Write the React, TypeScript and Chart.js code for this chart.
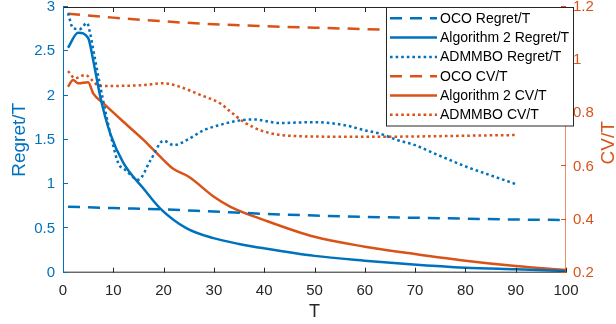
import React, { useEffect, useRef } from 'react';
import { Chart, registerables } from 'chart.js';

Chart.register(...registerables);

// ---------- data ----------
const ocoT = [1, 10, 20, 30, 40, 50, 60, 70, 80, 90, 100];
const ocoRegret = [0.745, 0.73, 0.715, 0.69, 0.665, 0.645, 0.63, 0.62, 0.61, 0.6, 0.595];
const ocoCV = [1.175, 1.16, 1.146, 1.135, 1.128, 1.122, 1.117, 1.112, 1.107, 1.103, 1.1];

const algRegretT = [1, 3, 5, 6, 7.4, 9.4, 12, 16, 19.3, 24.6, 29.9, 35, 40, 50, 60, 69, 80, 90, 100];
const algRegret = [2.54, 2.71, 2.65, 2.4, 1.99, 1.57, 1.24, 0.95, 0.727, 0.5, 0.39, 0.325, 0.275, 0.19, 0.136, 0.095, 0.056, 0.038, 0.02];

const admmRegretT = [1, 2, 3.3, 4.8, 5.4, 6.4, 8.1, 9.7, 11, 12.4, 15, 17.4, 20, 22, 24.7, 28, 31.3, 35.2, 38, 43, 50, 53, 56.5, 59.8, 63, 66.4, 70, 73.7, 80, 85, 90];
const admmRegret = [2.93, 2.76, 2.75, 2.82, 2.7, 2.4, 1.91, 1.5, 1.235, 1.16, 1.05, 1.27, 1.49, 1.44, 1.5, 1.61, 1.67, 1.72, 1.73, 1.69, 1.7, 1.69, 1.66, 1.61, 1.57, 1.5, 1.44, 1.35, 1.2, 1.1, 1.0];

const algCVT = [1, 2, 3, 5, 6, 8, 12, 16, 20, 22, 25, 30, 33.3, 40, 50, 60, 69, 80, 90, 100];
const algCV = [0.9, 0.925, 0.913, 0.917, 0.875, 0.838, 0.768, 0.7, 0.624, 0.59, 0.561, 0.486, 0.448, 0.398, 0.335, 0.298, 0.273, 0.245, 0.225, 0.21];

const admmCVT = [1, 2.4, 4.4, 6.1, 7.1, 10, 16, 20, 22.7, 27.3, 31.3, 33.3, 35.9, 40, 46.5, 55, 65, 75, 85, 90];
const admmCV = [0.959, 0.932, 0.944, 0.919, 0.903, 0.903, 0.906, 0.913, 0.903, 0.869, 0.837, 0.806, 0.768, 0.731, 0.714, 0.712, 0.712, 0.714, 0.717, 0.718];

const seriesLabels = [
  'OCO Regret/T',
  'Algorithm 2 Regret/T',
  'ADMMBO Regret/T',
  'OCO CV/T',
  'Algorithm 2 CV/T',
  'ADMMBO CV/T',
];

// ---------- styling ----------
const BLUE = '#0072BD';
const ORANGE = '#D95319';
const DARK = '#262626';
const FONT = '"Liberation Sans", Arial, Helvetica, sans-serif';
const DASH = [12, 8];
const DOT = [2.6, 3];
const LW = 2.5;

const pts = (xs: number[], ys: number[]) => xs.map((x, i) => ({ x, y: ys[i] }));
const fmt = (v: any) => String(Math.round(Number(v) * 10) / 10);
const noPad = (s: any) => {
  s.paddingTop = 0;
  s.paddingBottom = 0;
  s.paddingLeft = 0;
  s.paddingRight = 0;
};

const framePlugin = {
  id: 'frame',
  afterDraw(chart: any) {
    const { ctx, chartArea, scales } = chart;
    const { left, right, top, bottom } = chartArea;
    const line = (x1: number, y1: number, x2: number, y2: number) => {
      ctx.beginPath();
      ctx.moveTo(x1, y1);
      ctx.lineTo(x2, y2);
      ctx.stroke();
    };
    ctx.save();
    ctx.setLineDash([]);
    ctx.lineWidth = 1;
    ctx.strokeStyle = DARK;
    line(left, top + 0.5, right, top + 0.5);
    line(left, bottom - 0.5, right, bottom - 0.5);
    const xs = scales.x;
    xs.ticks.forEach((t: any) => {
      const px = Math.round(xs.getPixelForValue(t.value)) + 0.5;
      line(px, bottom, px, bottom - 5);
      line(px, top, px, top + 5);
    });
    ctx.strokeStyle = BLUE;
    line(left + 0.5, top, left + 0.5, bottom);
    const ys = scales.y;
    ys.ticks.forEach((t: any) => {
      const py = Math.round(ys.getPixelForValue(t.value)) - 0.5;
      line(left, py, left + 5, py);
    });
    ctx.strokeStyle = 'rgba(217,83,25,0.65)';
    line(right - 0.5, top, right - 0.5, bottom);
    ctx.strokeStyle = ORANGE;
    const y1 = scales.y1;
    y1.ticks.forEach((t: any) => {
      const py = Math.round(y1.getPixelForValue(t.value)) - 0.5;
      line(right, py, right - 5, py);
    });
    // right title (reads bottom-to-top)
    ctx.fillStyle = ORANGE;
    ctx.font = `19px ${FONT}`;
    ctx.textAlign = 'center';
    ctx.textBaseline = 'middle';
    ctx.translate(609, (top + bottom) / 2 + 3);
    ctx.rotate(-Math.PI / 2);
    ctx.fillText('CV/T', 0, 0);
    ctx.restore();

    // legend
    ctx.save();
    const bx = 386, by = 7.5, bw = 187, bh = 118.5;
    ctx.fillStyle = '#fff';
    ctx.fillRect(bx, by, bw, bh);
    ctx.strokeStyle = DARK;
    ctx.lineWidth = 1;
    ctx.strokeRect(bx + 0.5, by, bw, bh);
    ctx.font = `14px ${FONT}`;
    ctx.textAlign = 'left';
    ctx.textBaseline = 'middle';
    chart.data.datasets.forEach((ds: any, i: number) => {
      const cy = 18.3 + i * 19.3;
      ctx.strokeStyle = ds.borderColor;
      ctx.lineWidth = ds.borderWidth;
      ctx.setLineDash(ds.borderDash || []);
      ctx.beginPath();
      ctx.moveTo(390, cy);
      ctx.lineTo(437, cy);
      ctx.stroke();
      ctx.fillStyle = '#000';
      ctx.fillText(ds.label, 440, cy + 0.5);
    });
    ctx.restore();
  },
};

export default function App() {
  const ref = useRef<HTMLCanvasElement>(null);
  useEffect(() => {
    if (!ref.current) return;
    const mk = (i: number, data: any, color: string, dash: number[], axis: string) => ({
      label: seriesLabels[i],
      data,
      borderColor: color,
      backgroundColor: color,
      borderWidth: LW,
      borderDash: dash,
      pointRadius: 0,
      fill: false,
      cubicInterpolationMode: 'monotone',
      yAxisID: axis,
    });
    const chart = new Chart(ref.current, {
      type: 'line',
      data: {
        datasets: [
          mk(0, pts(ocoT, ocoRegret), BLUE, DASH, 'y'),
          mk(1, pts(algRegretT, algRegret), BLUE, [], 'y'),
          mk(2, pts(admmRegretT, admmRegret), BLUE, DOT, 'y'),
          mk(3, pts(ocoT, ocoCV), ORANGE, DASH, 'y1'),
          mk(4, pts(algCVT, algCV), ORANGE, [], 'y1'),
          mk(5, pts(admmCVT, admmCV), ORANGE, DOT, 'y1'),
        ] as any,
      },
      options: {
        responsive: false,
        animation: false,
        layout: { padding: { top: 7, left: 0, right: 0, bottom: 0 } },
        plugins: { legend: { display: false }, tooltip: { enabled: false } },
        scales: {
          x: {
            type: 'linear',
            min: 0,
            max: 100,
            ticks: { stepSize: 10, color: DARK, font: { family: FONT, size: 15 }, padding: 9, maxRotation: 0 },
            grid: { display: false, drawTicks: false },
            border: { display: false },
            title: { display: true, text: 'T', color: DARK, font: { family: FONT, size: 18 }, padding: { top: 0, bottom: 1 } },
            afterFit: (s: any) => { s.height = 51.3; noPad(s); },
          },
          y: {
            position: 'left',
            min: 0,
            max: 3,
            ticks: { stepSize: 0.5, color: BLUE, font: { family: FONT, size: 15 }, padding: 8, callback: fmt },
            grid: { display: false, drawTicks: false },
            border: { display: false },
            title: { display: true, text: 'Regret/T', color: BLUE, font: { family: FONT, size: 19 }, padding: { top: 8, bottom: 0 } },
            afterFit: (s: any) => { s.width = 63; noPad(s); },
          },
          y1: {
            position: 'right',
            min: 0.2,
            max: 1.2,
            ticks: { stepSize: 0.2, color: ORANGE, font: { family: FONT, size: 15 }, padding: 7, callback: fmt },
            grid: { display: false, drawTicks: false },
            border: { display: false },
            title: { display: false },
            afterFit: (s: any) => { s.width = 50; noPad(s); },
          },
        },
      } as any,
      plugins: [framePlugin],
    });
    return () => chart.destroy();
  }, []);
  return (
    <div style={{ position: 'fixed', left: 0, top: 0, width: 616, height: 324, background: '#fff' }}>
      <canvas ref={ref} width={616} height={324} style={{ display: 'block' }} />
    </div>
  );
}
